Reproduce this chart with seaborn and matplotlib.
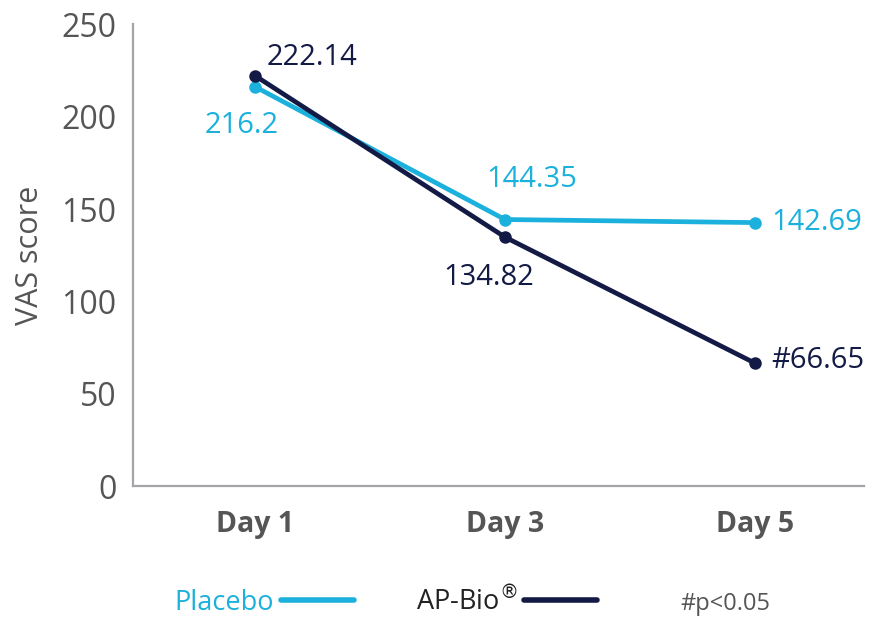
import matplotlib
matplotlib.use("Agg")
import matplotlib.pyplot as plt
import pandas as pd
import seaborn as sns
from matplotlib.lines import Line2D

days = ["Day 1", "Day 3", "Day 5"]
placebo = [216.2, 144.35, 142.69]
apbio = [222.14, 134.82, 66.65]
placebo_labels = ["216.2", "144.35", "142.69"]
apbio_labels = ["222.14", "134.82", "#66.65"]

CYAN = "#1bb1dc"
NAVY = "#131a45"
GRAY = "#555555"

sns.set_style("white")
plt.rcParams["font.family"] = ["Open Sans", "DejaVu Sans"]

df = pd.DataFrame({
    "day": days * 2,
    "score": placebo + apbio,
    "group": ["Placebo"] * 3 + ["AP-Bio®"] * 3,
})

fig = plt.figure(figsize=(8.77, 6.17), dpi=100)
ax = fig.add_axes([0.1517, 0.2123, 0.834, 0.748])

sns.lineplot(data=df, x="day", y="score", hue="group", sort=False,
             palette={"Placebo": CYAN, "AP-Bio®": NAVY}, marker="o",
             markersize=9, markeredgewidth=0, linewidth=3.4, legend=False, ax=ax)

ax.set_ylim(0, 250)
ax.set_xlim(-0.49, 2.44)
ax.set_yticks([0, 50, 100, 150, 200, 250])
ax.set_xlabel("")
ax.set_ylabel("VAS score", fontsize=22, color=GRAY, labelpad=12)
ax.tick_params(axis="y", labelsize=23, colors=GRAY, length=0, pad=12)
ax.tick_params(axis="x", labelsize=20.5, colors=GRAY, length=0, pad=17)
for lbl in ax.get_xticklabels():
    lbl.set_fontweight("bold")
sns.despine(ax=ax)
for side in ["left", "bottom"]:
    ax.spines[side].set_color("#a3a3a8")
    ax.spines[side].set_linewidth(1.6)

# value labels: (offset in points, alignment)
p_off = [((-10, -28), "center"), ((19, 29), "center"), ((12, 0), "left")]
a_off = [((8, 13), "left"), ((-11.5, -29), "center"), ((12, 2), "left")]
for i, d in enumerate(days):
    (dx, dy), ha = p_off[i]
    ax.annotate(placebo_labels[i], (i, placebo[i]), xytext=(dx, dy),
                textcoords="offset points", ha=ha, va="center",
                fontsize=21, color=CYAN)
    (dx, dy), ha = a_off[i]
    ax.annotate(apbio_labels[i], (i, apbio[i]), xytext=(dx, dy),
                textcoords="offset points", ha=ha, va="center",
                fontsize=21, color=NAVY)

handles = [Line2D([], [], color=CYAN, lw=4, solid_capstyle="round"),
           Line2D([], [], color=NAVY, lw=4, solid_capstyle="round")]
leg = fig.legend(handles, ["Placebo", "AP-Bio$^{\\circledR}$"], loc="center",
                 bbox_to_anchor=(0.44, 0.025), ncol=2, frameon=False,
                 markerfirst=False, fontsize=19.5, handlelength=2.7,
                 handletextpad=0.25, columnspacing=2.3)
leg.get_texts()[0].set_color(CYAN)
leg.get_texts()[1].set_color("#222222")
fig.text(0.827, 0.021, "#p<0.05", fontsize=17, color=GRAY, ha="center", va="center")

fig.savefig("out.png", dpi=100)
